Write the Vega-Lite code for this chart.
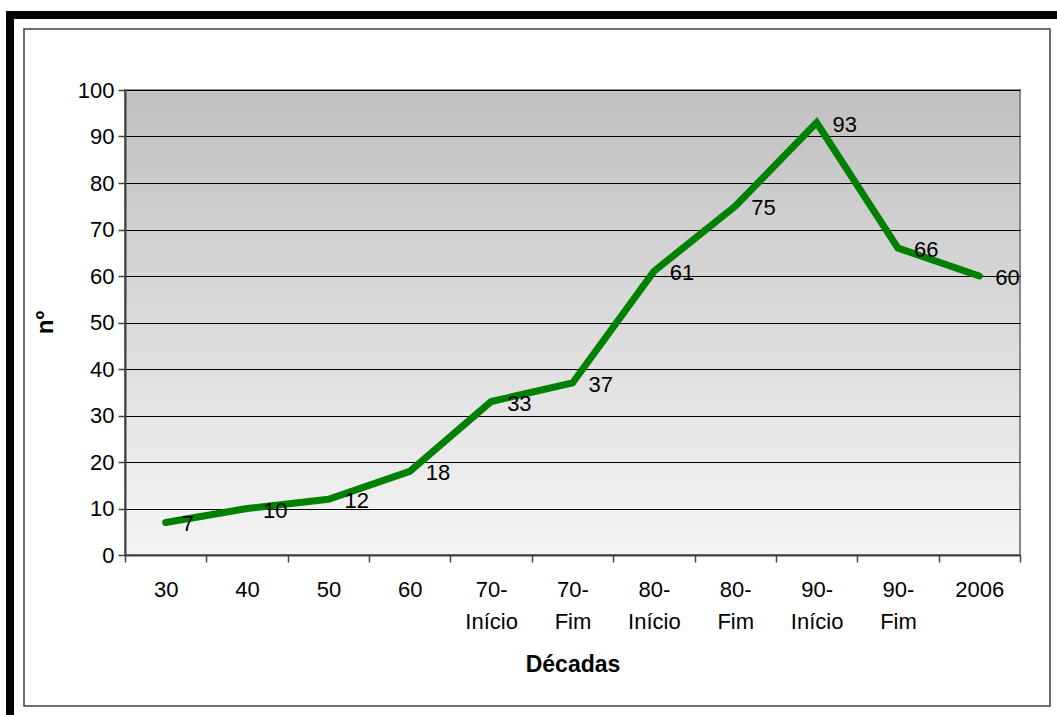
{
  "$schema": "https://vega.github.io/schema/vega-lite/v6.json",
  "width": 895,
  "height": 465,
  "autosize": "none",
  "padding": {"left": 125, "top": 90, "right": 37, "bottom": 160},
  "background": "white",
  "view": {
    "fill": {"gradient": "linear", "x1": 0, "y1": 0, "x2": 0, "y2": 1, "stops": [{"offset": 0, "color": "#c0c0c0"}, {"offset": 1, "color": "#f5f5f5"}]},
    "stroke": "#888888",
    "strokeWidth": 2
  },
  "config": {
    "font": "Liberation Sans",
    "axis": {"labelFont": "Liberation Sans", "titleFont": "Liberation Sans", "labelColor": "black", "titleColor": "black"}
  },
  "data": {
    "values": [
      {"decada": "30", "n": 7},
      {"decada": "40", "n": 10},
      {"decada": "50", "n": 12},
      {"decada": "60", "n": 18},
      {"decada": "70- Início", "n": 33},
      {"decada": "70- Fim", "n": 37},
      {"decada": "80- Início", "n": 61},
      {"decada": "80- Fim", "n": 75},
      {"decada": "90- Início", "n": 93},
      {"decada": "90- Fim", "n": 66},
      {"decada": "2006", "n": 60}
    ]
  },
  "layer": [
    {
      "data": {"values": [{}]},
      "mark": {"type": "rect", "fill": null, "stroke": "#404040", "strokeWidth": 1.5, "clip": false},
      "encoding": {"x": {"value": -101}, "x2": {"value": 925}, "y": {"value": -61}, "y2": {"value": 616}}
    },
    {
      "data": {"values": [{}]},
      "mark": {"type": "rect", "fill": "black", "clip": false},
      "encoding": {"x": {"value": -119}, "x2": {"value": 935}, "y": {"value": -79}, "y2": {"value": -71}}
    },
    {
      "data": {"values": [{}]},
      "mark": {"type": "rect", "fill": "black", "clip": false},
      "encoding": {"x": {"value": -119}, "x2": {"value": -111}, "y": {"value": -79}, "y2": {"value": 630}}
    },
    {
      "mark": {"type": "line", "color": "#008000", "strokeWidth": 7, "strokeJoin": "miter", "strokeCap": "round"},
      "encoding": {
        "x": {
          "field": "decada",
          "type": "nominal",
          "sort": null,
          "scale": {"paddingInner": 0, "paddingOuter": 0},
          "axis": {
            "title": "Décadas",
            "titleFontSize": 23,
            "titleFontWeight": "bold",
            "titleY": 98,
            "titleBaseline": "top",
            "labelAngle": 0,
            "labelFontSize": 22,
            "labelExpr": "split(datum.label, ' ')",
            "labelLineHeight": 32,
            "labelPadding": 17,
            "labelBaseline": "top",
            "tickBand": "extent",
            "tickSize": 7,
            "tickColor": "#404040",
            "tickWidth": 1.5,
            "domainColor": "#404040",
            "domainWidth": 2,
            "grid": false
          }
        },
        "y": {
          "field": "n",
          "type": "quantitative",
          "scale": {"domain": [0, 100], "nice": false},
          "axis": {
            "title": "nº",
            "titleFontSize": 24,
            "titleFontWeight": "bold",
            "titleX": -80,
            "titleY": 232,
            "titleAngle": -90,
            "titleBaseline": "middle",
            "titleAlign": "center",
            "values": [0, 10, 20, 30, 40, 50, 60, 70, 80, 90, 100],
            "labelFontSize": 22,
            "labelPadding": 4,
            "tickSize": 7,
            "tickColor": "#404040",
            "tickWidth": 1.5,
            "domainColor": "#404040",
            "domainWidth": 2,
            "grid": true,
            "gridColor": "black",
            "gridWidth": 1
          }
        }
      }
    },
    {
      "mark": {"type": "text", "align": "left", "baseline": "middle", "dx": 16, "dy": 2, "fontSize": 22, "font": "Liberation Sans", "color": "black"},
      "encoding": {
        "x": {"field": "decada", "type": "nominal", "sort": null},
        "y": {"field": "n", "type": "quantitative"},
        "text": {"field": "n", "type": "quantitative"}
      }
    }
  ]
}
